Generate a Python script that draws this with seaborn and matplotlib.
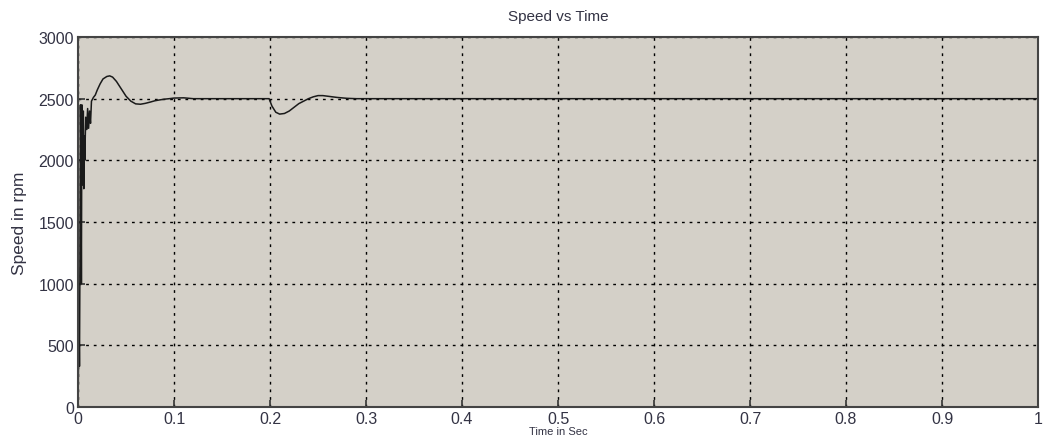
import pandas as pd
import seaborn as sns
import matplotlib.pyplot as plt

# Speed response (time in s, speed in rpm)
time_s = [0, 0.001, 0.0015, 0.002, 0.0025, 0.003, 0.0035, 0.004, 0.0045, 0.005,
          0.0055, 0.006, 0.0065, 0.007, 0.008, 0.009, 0.010, 0.011, 0.012, 0.013,
          0.014, 0.016, 0.018, 0.020, 0.023, 0.026, 0.030, 0.033, 0.036, 0.040,
          0.045, 0.050, 0.055, 0.060, 0.065, 0.070, 0.075, 0.080, 0.085, 0.090,
          0.095, 0.100, 0.110, 0.120, 0.150, 0.199, 0.202, 0.206, 0.210, 0.215,
          0.220, 0.225, 0.230, 0.235, 0.240, 0.245, 0.250, 0.255, 0.260, 0.270,
          0.280, 0.290, 0.300, 0.400, 1.0]
speed_rpm = [0, 750, 330, 1200, 2450, 2000, 1000, 2450, 1980, 1800,
             2400, 1770, 2200, 2000, 2350, 2250, 2420, 2260, 2400, 2300,
             2480, 2510, 2530, 2570, 2620, 2660, 2680, 2685, 2675, 2640,
             2580, 2520, 2480, 2458, 2455, 2462, 2472, 2483, 2490, 2496,
             2500, 2505, 2507, 2500, 2500, 2500, 2440, 2390, 2375, 2380,
             2400, 2430, 2460, 2480, 2500, 2515, 2525, 2525, 2520, 2510,
             2503, 2500, 2500, 2500, 2500]

x_ticks = [0, 0.1, 0.2, 0.3, 0.4, 0.5, 0.6, 0.7, 0.8, 0.9, 1]
x_ticklabels = ['0', '0.1', '0.2', '0.3', '0.4', '0.5', '0.6', '0.7', '0.8', '0.9', '1']
y_ticks = [0, 500, 1000, 1500, 2000, 2500, 3000]

df = pd.DataFrame({'t': time_s, 'speed': speed_rpm})

sns.set_style('ticks')
plt.rcParams['font.family'] = ['Liberation Sans', 'DejaVu Sans']

fig = plt.figure(figsize=(10.46, 4.39), dpi=100)
ax = fig.add_axes([0.0746, 0.0706, 0.9178, 0.8428])
ax.set_facecolor('#d4d0c8')

sns.lineplot(data=df, x='t', y='speed', ax=ax, color='#1a1a1a', linewidth=1.1,
             estimator=None, sort=False)

ax.set_xlim(0, 1)
ax.set_ylim(0, 3000)
ax.set_xticks(x_ticks)
ax.set_xticklabels(x_ticklabels)
ax.set_yticks(y_ticks)
ax.grid(True, color='black', linestyle=(0, (2, 3.5)), linewidth=1.0)
ax.tick_params(direction='in', length=5, width=1.2, colors='#333333',
               labelsize=11.5, labelcolor='#333344', pad=3)
for s in ax.spines.values():
    s.set_color('#444444')
    s.set_linewidth(1.5)

ax.set_title('Speed vs Time', fontsize=11, color='#333344', pad=12)
ax.set_ylabel('Speed in rpm', fontsize=12.5, color='#333344', labelpad=8)
ax.set_xlabel('Time in Sec', fontsize=8, color='#333344', labelpad=0)

fig.savefig('out.png', dpi=100)
